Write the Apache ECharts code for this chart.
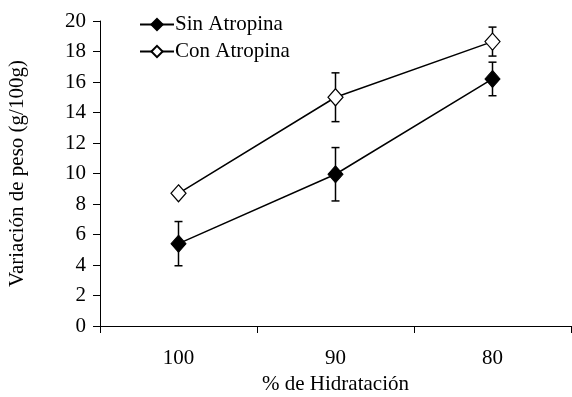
<!DOCTYPE html>
<html>
<head>
<meta charset="utf-8">
<script src="https://cdn.jsdelivr.net/npm/echarts@6/dist/echarts.min.js"></script>
<style>
html,body{margin:0;padding:0;background:#fff;}
#chart{width:572px;height:397px;}
</style>
</head>
<body>
<div id="chart"></div>
<script>
// Hydration levels on the x axis
var categories = ['100', '90', '80'];
// Mean weight change (g/100g) and its error
var sinAtropina = [5.4, 9.95, 16.2];
var sinAtropinaErr = [1.45, 1.75, 1.1];
var conAtropina = [8.7, 15.0, 18.65];
var conAtropinaErr = [0, 1.6, 0.95];
var yTicks = [0, 2, 4, 6, 8, 10, 12, 14, 16, 18, 20];

var FONT = '"Liberation Serif", "DejaVu Serif", serif';

function errorSeries(values, errs) {
  var data = values.map(function (v, i) { return [i, v - errs[i], v + errs[i]]; });
  return {
    type: 'custom',
    silent: true,
    z: 1,
    data: data,
    renderItem: function (params, api) {
      var x = api.value(0);
      var lo = api.coord([x, api.value(1)]);
      var hi = api.coord([x, api.value(2)]);
      var half = 4;
      var style = { stroke: '#000', lineWidth: 1.5 };
      return {
        type: 'group',
        children: [
          { type: 'line', shape: { x1: lo[0], y1: lo[1], x2: hi[0], y2: hi[1] }, style: style },
          { type: 'line', shape: { x1: hi[0] - half, y1: hi[1], x2: hi[0] + half, y2: hi[1] }, style: style },
          { type: 'line', shape: { x1: lo[0] - half, y1: lo[1], x2: lo[0] + half, y2: lo[1] }, style: style }
        ]
      };
    }
  };
}

var chart = echarts.init(document.getElementById('chart'));
chart.setOption({
  animation: false,
  backgroundColor: '#fff',
  textStyle: { fontFamily: FONT },
  grid: { left: 100, right: 1, top: 21, bottom: 71, outerBoundsMode: 'none', containLabel: false },
  legend: {
    orient: 'vertical',
    left: 134,
    top: 9,
    itemGap: 6,
    itemWidth: 34,
    itemHeight: 14,
    textStyle: { fontFamily: FONT, fontSize: 21, color: '#000', padding: [0, 0, 0, -4] },
    data: ['Sin Atropina', 'Con Atropina']
  },
  xAxis: {
    type: 'category',
    data: categories,
    boundaryGap: true,
    axisLine: { lineStyle: { color: '#000', width: 1 } },
    axisTick: { show: true, length: 7, lineStyle: { color: '#000' } },
    axisLabel: { fontFamily: FONT, fontSize: 21, color: '#000', margin: 22 },
    name: '% de Hidratación',
    nameLocation: 'middle',
    nameGap: 46,
    nameTextStyle: { fontFamily: FONT, fontSize: 21, color: '#000' }
  },
  yAxis: {
    type: 'value',
    min: yTicks[0],
    max: yTicks[yTicks.length - 1],
    interval: 2,
    splitLine: { show: false },
    axisLine: { show: true, lineStyle: { color: '#000', width: 1 } },
    axisTick: { show: true, length: 7, lineStyle: { color: '#000' } },
    axisLabel: { fontFamily: FONT, fontSize: 21, color: '#000', margin: 14 },
    name: 'Variación de peso (g/100g)',
    nameLocation: 'middle',
    nameGap: 72,
    nameRotate: 90,
    nameTextStyle: { fontFamily: FONT, fontSize: 21, color: '#000' }
  },
  series: [
    errorSeries(sinAtropina, sinAtropinaErr),
    errorSeries(conAtropina, conAtropinaErr),
    {
      name: 'Sin Atropina',
      type: 'line',
      z: 3,
      data: sinAtropina,
      symbol: 'diamond',
      symbolSize: [15, 17],
      showAllSymbol: true,
      lineStyle: { color: '#000', width: 1.5 },
      itemStyle: { color: '#000', borderColor: '#000', borderWidth: 1 }
    },
    {
      name: 'Con Atropina',
      type: 'line',
      z: 3,
      data: conAtropina,
      symbol: 'diamond',
      symbolSize: [15, 17],
      showAllSymbol: true,
      lineStyle: { color: '#000', width: 1.5 },
      itemStyle: { color: '#fff', borderColor: '#000', borderWidth: 1.2 }
    }
  ]
});
</script>
</body>
</html>
